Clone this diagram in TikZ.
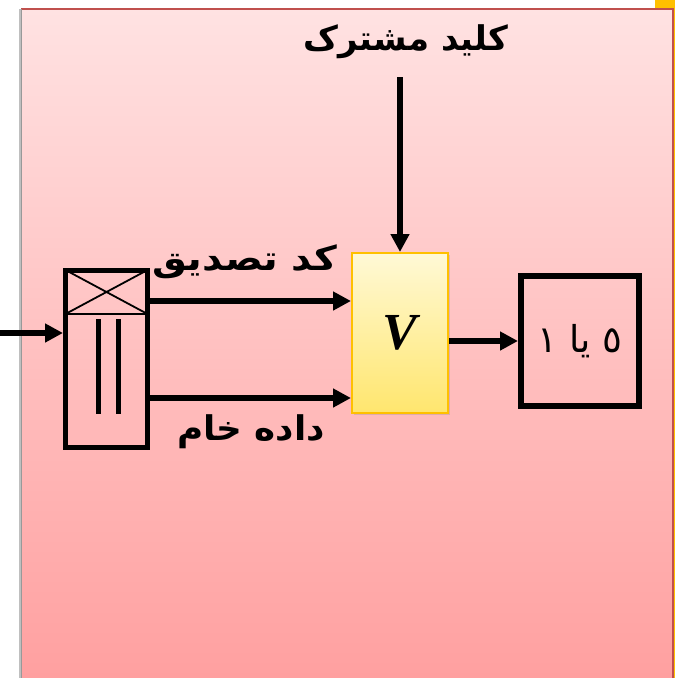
\documentclass[tikz,border=0pt]{standalone}
\usepackage{fontspec}
\usetikzlibrary{arrows.meta,shadows}
\TeXXeTstate=1
\newfontfamily\arabicfont[Script=Arabic]{DejaVu Sans}
\newfontfamily\timesfont{Liberation Serif}
\definecolor{bgtop}{RGB}{255,226,226}
\definecolor{bgbot}{RGB}{255,160,160}
\definecolor{frame}{RGB}{192,80,77}
\definecolor{strip}{RGB}{255,192,0}
\definecolor{vtop}{RGB}{255,249,214}
\definecolor{vbot}{RGB}{255,230,110}
\definecolor{vedge}{RGB}{255,192,0}
\tikzset{
  arr/.style={line width=5.5, -{Triangle[length=18pt,width=18pt]}},
  thickbox/.style={draw, line width=5, inner sep=0pt, outer sep=0pt},
  fatbox/.style={draw, line width=6, inner sep=0pt},
  vbox/.style={draw=vedge, line width=2, top color=vtop, bottom color=vbot,
    inner sep=0pt, drop shadow={shadow xshift=2pt, shadow yshift=-2pt, opacity=0.25}},
  fatext/.style={font=\arabicfont\bfseries\fontsize{34}{40}\selectfont},
  label/.style={font=\arabicfont\bfseries\fontsize{34}{40}\selectfont},
}
\begin{document}
\begin{tikzpicture}[x=1pt,y=-1pt]
\useasboundingbox (0,0) rectangle (675,678);
% slide background with its frame
\fill[strip] (655,0) rectangle (675,678);
\fill[black!25] (19,9) rectangle (23,678);
\shade[top color=bgtop, bottom color=bgbot] (21,9) rectangle (673,678);
\draw[frame, line width=2] (21,9) -- (673,9) -- (673,678);
\draw[black!40, line width=1] (21,9) -- (21,678);

% blocks
\node[thickbox, minimum width=82, minimum height=177] (store) at (106.5,358.5) {};
\node[vbox, minimum width=96, minimum height=160] (v) at (400,333) {\timesfont\bfseries\itshape\fontsize{52}{56}\selectfont V};
\node[fatbox, minimum width=118, minimum height=130] (out) at (580,341)
  {\arabicfont\fontsize{37}{40}\selectfont\beginR ٥ یا ١\endR};

% store symbol details: crossed lid and two bars
\coordinate (div) at (0,314);
\draw[line width=1.8] (div -| store.west) -- (div -| store.east);
\draw[line width=1.8] (store.north west) -- (div -| store.east);
\draw[line width=1.8] (store.north east) -- (div -| store.west);
\fill (96,319) rectangle (101,414);
\fill (116,319) rectangle (121,414);

% labels
\node[fatext] (key) at (406,42) {\beginR کلید مشترک\endR};
\node[label] (mac) at (245,262) {\scalebox{1.15}[1]{\beginR کد تصدیق\endR}};
\node[label] (raw) at (251,432) {\scalebox{1.05}[1]{\beginR داده خام\endR}};

% connectors
\coordinate (src) at (0,333);
\coordinate (ya) at (0,301);
\coordinate (yb) at (0,398);
\coordinate (keyend) at (400,77);
\draw[arr] (src) -- ([xshift=-2.5pt]src -| store.west);
\draw[arr] ([xshift=2.5pt]ya -| store.east) -- (ya -| v.west);
\draw[arr] ([xshift=2.5pt]yb -| store.east) -- (yb -| v.west);
\draw[arr] (keyend) -- (v.north);
\draw[arr] (v.east |- out.west) -- (out.west);
\end{tikzpicture}
\end{document}
